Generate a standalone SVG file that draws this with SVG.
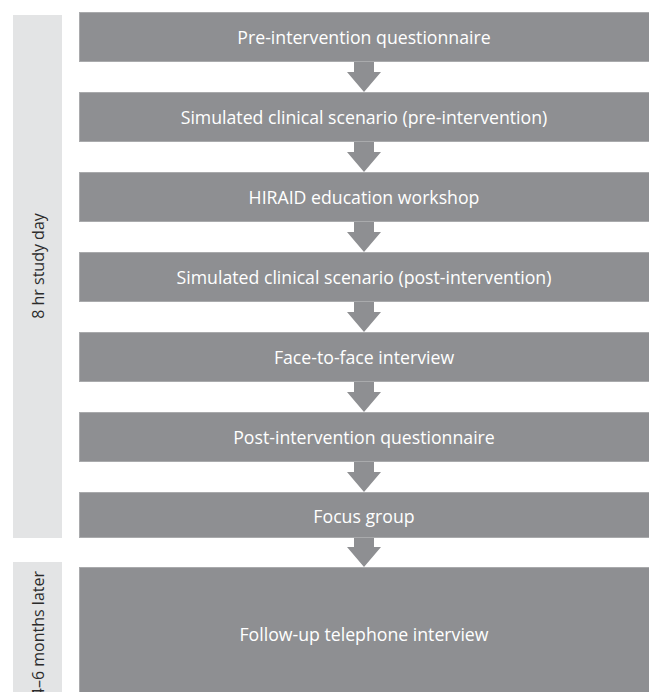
<svg xmlns="http://www.w3.org/2000/svg" width="649" height="692" viewBox="0 0 649 692">
  <style>
    .phase { fill: #e3e4e5; }
    .box { fill: #8e8f92; stroke: #a9aaac; stroke-width: 1; }
    .lbl { font-family: "Open Sans", "Liberation Sans", sans-serif; font-size: 17.7px; fill: #ffffff; text-anchor: middle; dominant-baseline: central; }
    .side { font-family: "Open Sans", "Liberation Sans", sans-serif; font-size: 16px; fill: #2b2b2b; dominant-baseline: central; }
    .arrow { fill: #8e8f92; }
  </style>
  <defs>
    <!-- block arrow: shaft 20 wide, head 34 wide, tip at origin -->
    <path id="blk" d="M-10,-31 H10 V-20 H17 L0,0 L-17,-20 H-10 Z"/>
  </defs>

  <!-- phase bands -->
  <g id="phase-study-day">
    <rect class="phase" x="13" y="15" width="49" height="523"/>
    <text class="side" transform="translate(38,266) rotate(-90)" text-anchor="middle">8 hr study day</text>
  </g>
  <g id="phase-follow-up">
    <rect class="phase" x="13" y="562" width="49" height="131"/>
    <text class="side" transform="translate(38,571) rotate(-90)" text-anchor="end">4–6 months later</text>
  </g>

  <!-- connectors -->
  <g id="connectors" class="arrow">
    <use href="#blk" x="364" y="92"/>
    <use href="#blk" x="364" y="172"/>
    <use href="#blk" x="364" y="252"/>
    <use href="#blk" x="364" y="332"/>
    <use href="#blk" x="364" y="412"/>
    <use href="#blk" x="364" y="492"/>
    <use href="#blk" x="364" y="567"/>
  </g>

  <!-- steps -->
  <g id="step1">
    <rect class="box" x="79.5" y="12.5" width="570" height="49"/>
    <text class="lbl" x="364" y="37">Pre-intervention questionnaire</text>
  </g>
  <g id="step2">
    <rect class="box" x="79.5" y="92.5" width="570" height="49"/>
    <text class="lbl" x="364" y="117">Simulated clinical scenario (pre-intervention)</text>
  </g>
  <g id="step3">
    <rect class="box" x="79.5" y="172.5" width="570" height="49"/>
    <text class="lbl" x="364" y="197">HIRAID education workshop</text>
  </g>
  <g id="step4">
    <rect class="box" x="79.5" y="252.5" width="570" height="49"/>
    <text class="lbl" x="364" y="277">Simulated clinical scenario (post-intervention)</text>
  </g>
  <g id="step5">
    <rect class="box" x="79.5" y="332.5" width="570" height="49"/>
    <text class="lbl" x="364" y="357">Face-to-face interview</text>
  </g>
  <g id="step6">
    <rect class="box" x="79.5" y="412.5" width="570" height="49"/>
    <text class="lbl" x="364" y="437">Post-intervention questionnaire</text>
  </g>
  <g id="step7">
    <rect class="box" x="79.5" y="492.5" width="570" height="45"/>
    <text class="lbl" x="364" y="516">Focus group</text>
  </g>
  <g id="step8">
    <rect class="box" x="79.5" y="567.5" width="570" height="130"/>
    <text class="lbl" x="364" y="634">Follow-up telephone interview</text>
  </g>
</svg>
